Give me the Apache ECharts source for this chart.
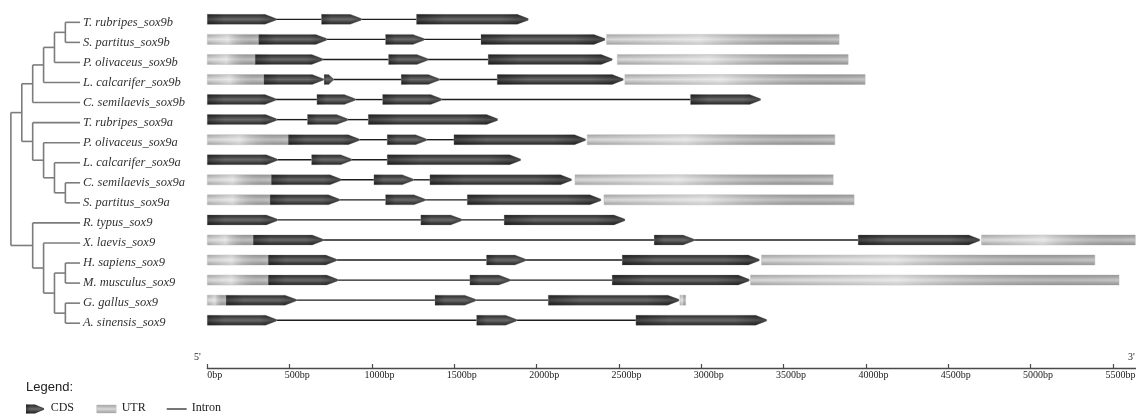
<!DOCTYPE html>
<html><head><meta charset="utf-8">
<script src="https://cdn.jsdelivr.net/npm/echarts@6/dist/echarts.min.js"></script>
<style>html,body{margin:0;padding:0;background:#fff}#c{width:1136px;height:414px}</style>
</head><body><div id="c"></div>
<script>
// ---- data ----
const geneNames = [
  'T. rubripes_sox9b','S. partitus_sox9b','P. olivaceus_sox9b','L. calcarifer_sox9b','C. semilaevis_sox9b',
  'T. rubripes_sox9a','P. olivaceus_sox9a','L. calcarifer_sox9a','C. semilaevis_sox9a','S. partitus_sox9a',
  'R. typus_sox9','X. laevis_sox9','H. sapiens_sox9','M. musculus_sox9','G. gallus_sox9','A. sinensis_sox9'
];
// [row, start bp, end bp]
const cdsSegments = [
  [0,0,417],[0,694,935],[0,1271,1949],
  [1,312,725],[1,1083,1316],[1,1662,2415],
  [2,291,701],[2,1101,1340],[2,1706,2459],
  [3,344,704],[3,710,765],[3,1178,1409],[3,1761,2526],
  [4,0,417],[4,666,899],[4,1065,1423],[4,2935,3360],
  [5,0,421],[5,609,852],[5,978,1763],
  [6,492,923],[6,1093,1332],[6,1498,2297],
  [7,0,425],[7,634,877],[7,1093,1903],
  [8,389,812],[8,1012,1251],[8,1352,2212],
  [9,381,802],[9,1083,1322],[9,1579,2390],
  [10,0,425],[10,1297,1545],[10,1803,2536],
  [11,279,704],[11,2714,2957],[11,3953,4691],
  [12,370,786],[12,1696,1935],[12,2520,3352],
  [13,370,792],[13,1595,1838],[13,2459,3291],
  [14,114,539],[14,1383,1630],[14,2071,2864],
  [15,0,421],[15,1636,1879],[15,2603,3397]
];
const utrSegments = [
  [1,0,312],[1,2425,3837],
  [2,0,291],[2,2490,3892],
  [3,0,344],[3,2536,3995],
  [6,0,492],[6,2307,3811],
  [8,0,389],[8,2233,3801],
  [9,0,381],[9,2409,3928],
  [11,0,279],[11,4702,5636],
  [12,0,370],[12,3366,5390],
  [13,0,370],[13,3299,5537],
  [14,0,114],[14,2870,2905]
];
// tree topology (leaf = row index)
const treeTopology = [[[[[[0,1],2],3],4],[5,[6,[7,[8,9]]]]],[10,[11,[[12,13],[14,15]]]]];
const leafDepth = 6.34;
const tickValues = [0,500,1000,1500,2000,2500,3000,3500,4000,4500,5000,5500];

// introns: between consecutive CDS of the same gene
const intronSegments = [];
geneNames.forEach((g, r) => {
  const segs = cdsSegments.filter(s => s[0] === r).sort((a,b) => a[1]-b[1]);
  for (let i = 1; i < segs.length; i++) intronSegments.push([r, segs[i-1][2], segs[i][1]]);
});

// ---- rendering ----
const G = echarts.graphic;
const cdsFill = () => new G.LinearGradient(0,0,0,1,[
  {offset:0,color:'#262626'},{offset:0.5,color:'#6a6a6a'},{offset:1,color:'#1e1e1e'}]);
const cdsShade = () => new G.LinearGradient(0,0,1,0,[
  {offset:0,color:'rgba(0,0,0,0.35)'},{offset:0.25,color:'rgba(0,0,0,0)'},
  {offset:0.75,color:'rgba(0,0,0,0)'},{offset:1,color:'rgba(0,0,0,0.35)'}]);
const utrFill = () => new G.LinearGradient(0,0,0,1,[
  {offset:0,color:'#9e9e9e'},{offset:0.5,color:'#d8d8d8'},{offset:1,color:'#9a9a9a'}]);
const utrShade = () => new G.LinearGradient(0,0,1,0,[
  {offset:0,color:'rgba(255,255,255,0)'},{offset:0.4,color:'rgba(255,255,255,0.45)'},
  {offset:1,color:'rgba(0,0,0,0.08)'}]);
const BAR_H = 10;

function arrowPoints(x0, x1, y, h) {
  const t = Math.min(11, (x1-x0)*0.5);
  return [[x0,y-h/2],[x1-t,y-h/2],[x1,y-0.8],[x1,y+0.8],[x1-t,y+h/2],[x0,y+h/2]];
}

function renderCDS(params, api) {
  const r = api.value(0);
  const p0 = api.coord([api.value(1), r]);
  const p1 = api.coord([api.value(2), r]);
  const pts = arrowPoints(p0[0], p1[0], p0[1], BAR_H);
  return {type:'group', children:[
    {type:'polygon', shape:{points:pts}, style:{fill:cdsFill(), stroke:'rgba(150,150,150,0.6)', lineWidth:0.6}},
    {type:'polygon', shape:{points:pts}, style:{fill:cdsShade()}}
  ]};
}
function renderUTR(params, api) {
  const r = api.value(0);
  const p0 = api.coord([api.value(1), r]);
  const p1 = api.coord([api.value(2), r]);
  const shape = {x:p0[0], y:p0[1]-BAR_H/2, width:Math.max(1,p1[0]-p0[0]), height:BAR_H};
  return {type:'group', children:[
    {type:'rect', shape, style:{fill:utrFill(), stroke:'rgba(190,190,190,0.8)', lineWidth:0.6}},
    {type:'rect', shape, style:{fill:utrShade()}}
  ]};
}
function renderIntron(params, api) {
  const r = api.value(0);
  const p0 = api.coord([api.value(1), r]);
  const p1 = api.coord([api.value(2), r]);
  return {type:'line', shape:{x1:p0[0], y1:p0[1], x2:p1[0], y2:p1[1]},
    style:{stroke:'#1c1c1c', lineWidth:1.4}};
}

function layoutTree(node) {
  if (typeof node === 'number') return {leaf:node, h:0, y:node};
  const kids = node.map(layoutTree);
  return {kids, h:1+Math.max(...kids.map(k=>k.h)), y:(kids[0].y+kids[kids.length-1].y)/2};
}
const treeRoot = layoutTree(treeTopology);

function renderTree(params, api) {
  const children = [];
  const lineStyle = {stroke:'#7c7c7c', lineWidth:1.6};
  const depthOf = n => n.kids ? treeRoot.h - n.h : leafDepth;
  function walk(n) {
    if (!n.kids) {
      const p = api.coord([leafDepth, n.y]);
      children.push({type:'text', x:p[0]+3, y:p[1], style:{text:geneNames[n.leaf], fill:'#333',
        font:'italic 12.5px "Liberation Serif", "Times New Roman", serif', verticalAlign:'middle', align:'left'}});
      return;
    }
    const d = depthOf(n);
    const a = api.coord([d, n.kids[0].y]);
    const b = api.coord([d, n.kids[n.kids.length-1].y]);
    children.push({type:'line', shape:{x1:a[0], y1:a[1], x2:b[0], y2:b[1]}, style:lineStyle});
    n.kids.forEach(k => {
      const s = api.coord([d, k.y]);
      const e = api.coord([depthOf(k), k.y]);
      children.push({type:'line', shape:{x1:s[0], y1:s[1], x2:e[0], y2:e[1]}, style:lineStyle});
      walk(k);
    });
  }
  walk(treeRoot);
  return {type:'group', children};
}

const serif = '"Liberation Serif", "Times New Roman", serif';
const chart = echarts.init(document.getElementById('c'), null, {renderer:'canvas'});
chart.setOption({
  animation:false,
  backgroundColor:'#fff',
  grid:[
    {left:207.3, right:0, top:9.3, bottom:46, containLabel:false, outerBoundsMode:'none'},
    {left:0, width:207, top:12.3, bottom:43, containLabel:false, outerBoundsMode:'none'}
  ],
  xAxis:[
    {type:'value', gridIndex:0, position:'bottom', min:0, max:5640, interval:500,
     splitLine:{show:false},
     axisLine:{show:true, onZero:false, lineStyle:{color:'#4a4a4a', width:1.3}},
     axisTick:{show:true, inside:true, length:4, customValues:tickValues, lineStyle:{color:'#4a4a4a', width:1.2}},
     axisLabel:{show:true, customValues:tickValues, margin:2, hideOverlap:false,
       formatter: v => '{s| }{t|' + v + 'bp}',
       rich:{
         s:{width:15, fontSize:10, fontFamily:serif},
         t:{fontSize:10, fontFamily:serif, color:'#222'}
       },
       color:'#222', fontSize:10, fontFamily:serif}},
    {type:'value', gridIndex:1, min:-1, max:18, show:false}
  ],
  yAxis:[
    {type:'value', gridIndex:0, min:-0.5, max:17.383, inverse:true, show:false},
    {type:'value', gridIndex:1, min:-0.5, max:17.383, inverse:true, show:false}
  ],
  series:[
    {type:'custom', name:'Intron', xAxisIndex:0, yAxisIndex:0, renderItem:renderIntron, data:intronSegments, silent:true, clip:false},
    {type:'custom', name:'UTR', xAxisIndex:0, yAxisIndex:0, renderItem:renderUTR, data:utrSegments, silent:true, clip:false},
    {type:'custom', name:'CDS', xAxisIndex:0, yAxisIndex:0, renderItem:renderCDS, data:cdsSegments, silent:true, clip:false},
    {type:'custom', name:'Tree', xAxisIndex:1, yAxisIndex:1, renderItem:renderTree, data:[[0,0]], silent:true, clip:false}
  ],
  graphic:[
    {type:'text', left:194, top:352, style:{text:"5'", font:'10px '+serif, fill:'#222'}},
    {type:'text', left:1128, top:352, style:{text:"3'", font:'10px '+serif, fill:'#222'}},
    {type:'text', left:26, top:381, style:{text:'Legend:', font:'13px "Liberation Sans", Arial, sans-serif', fill:'#222'}},
    {type:'polygon', shape:{points:arrowPoints(26, 44, 409, 9)}, style:{fill:cdsFill()}},
    {type:'polygon', shape:{points:arrowPoints(26, 44, 409, 9)}, style:{fill:cdsShade()}},
    {type:'text', left:50.7, top:402, style:{text:'CDS', font:'12px '+serif, fill:'#222'}},
    {type:'rect', shape:{x:96.7, y:405, width:19.5, height:8}, style:{fill:utrFill(), stroke:'rgba(190,190,190,0.8)', lineWidth:0.6}},
    {type:'text', left:121.7, top:402, style:{text:'UTR', font:'12px '+serif, fill:'#222'}},
    {type:'line', shape:{x1:166.7, y1:409, x2:186.7, y2:409}, style:{stroke:'#1c1c1c', lineWidth:1.2}},
    {type:'text', left:191.7, top:402, style:{text:'Intron', font:'12px '+serif, fill:'#222'}}
  ]
});
</script></body></html>
